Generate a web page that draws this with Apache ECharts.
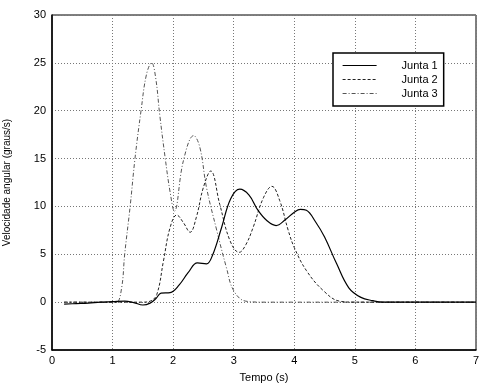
<!DOCTYPE html>
<html><head><meta charset="utf-8">
<script src="https://cdn.jsdelivr.net/npm/echarts@6/dist/echarts.min.js"></script>
<style>html,body{margin:0;padding:0;background:#fff}#c{width:480px;height:385px}</style>
</head><body><div id="c"></div>
<script>
var seriesNames = ["Junta 1", "Junta 2", "Junta 3"];
var xTicks = [0, 1, 2, 3, 4, 5, 6, 7];
var yTicks = [-5, 0, 5, 10, 15, 20, 25, 30];

var t1 = [0.2,0.4,0.6,0.8,1.0,1.2,1.35,1.5,1.62,1.72,1.8,1.95,2.1,2.25,2.4,2.55,2.65,2.8,2.95,3.1,3.25,3.4,3.55,3.7,3.85,4.0,4.1,4.2,4.35,4.5,4.7,4.9,5.1,5.3,5.45,6.0,7.0];
var v1 = [-0.2,-0.15,-0.1,0,0.05,0.1,-0.05,-0.3,-0.1,0.4,0.95,1.0,1.8,3.1,4.1,4.0,4.9,7.8,10.8,11.8,11.2,9.6,8.5,8.0,8.6,9.4,9.7,9.6,8.4,6.8,4.0,1.5,0.5,0.15,0,0,0];

var t2 = [0.2,1.0,1.5,1.62,1.73,1.84,1.95,2.06,2.17,2.28,2.38,2.5,2.62,2.77,2.94,3.09,3.2,3.32,3.49,3.63,3.76,3.9,4.0,4.2,4.48,4.75,5.0,6.0,7.0];
var v2 = [0,0,0,0.1,0.8,4.3,7.8,9.1,8.3,7.3,8.8,12.0,13.7,10.2,6.4,5.2,6.0,7.8,10.9,12.1,10.6,7.5,5.7,3.3,1.2,0.1,0,0,0];

var t3 = [0.2,1.0,1.07,1.15,1.2,1.29,1.37,1.47,1.56,1.645,1.71,1.78,1.87,1.95,2.02,2.17,2.34,2.44,2.55,2.72,2.88,3.0,3.2,3.5,5.0,7.0];
var v3 = [0,0,0,1.5,5,10,15,20,23.8,25,23.5,19.5,15,11.5,9.5,14.8,17.4,16.2,12,7.5,3.6,1.2,0.1,0,0,0];

function pairs(t, v){ return t.map(function(x,i){ return [x, v[i]]; }); }

var styles = [
  { color: '#000', width: 1.2, type: 'solid' },
  { color: '#222', width: 1, type: [3, 2] },
  { color: '#555', width: 1, type: [4, 2, 1, 2] }
];

var chart = echarts.init(document.getElementById('c'));
var font = 'Liberation Sans, Arial, sans-serif';
chart.setOption({
  animation: false,
  backgroundColor: '#fff',
  textStyle: { fontFamily: font },
  grid: { left: 52, right: 4, top: 15, bottom: 35, show: true, borderColor: '#000', borderWidth: 1,
          containLabel: false, outerBoundsMode: 'none' },
  xAxis: {
    type: 'value', min: xTicks[0], max: xTicks[xTicks.length-1], interval: 1,
    name: 'Tempo (s)', nameLocation: 'middle', nameGap: 22,
    nameTextStyle: { color: '#000', fontSize: 11, fontFamily: font },
    axisLine: { onZero: false, lineStyle: { color: '#000', width: 1.5 } },
    axisTick: { show: false },
    axisLabel: { color: '#000', fontSize: 11, margin: 5, fontFamily: font },
    splitLine: { show: true, lineStyle: { color: '#777', type: [1, 2], width: 1 } }
  },
  yAxis: {
    type: 'value', min: yTicks[0], max: yTicks[yTicks.length-1], interval: 5,
    name: 'Velocidade angular (graus/s)', nameLocation: 'middle', nameGap: 40, nameRotate: 90,
    nameTextStyle: { color: '#000', fontSize: 10, fontFamily: font },
    axisLine: { onZero: false, lineStyle: { color: '#000', width: 1.5 } },
    axisTick: { show: false },
    axisLabel: { color: '#000', fontSize: 11, margin: 6, fontFamily: font },
    splitLine: { show: true, lineStyle: { color: '#777', type: [1, 2], width: 1 } }
  },
  legend: {
    orient: 'vertical', left: 333, top: 53,
    backgroundColor: '#fff', borderColor: '#000', borderWidth: 1.5, borderRadius: 0,
    padding: [7, 6, 7, 9], itemGap: 3, itemWidth: 34, itemHeight: 11,
    itemStyle: { opacity: 0 },
    textStyle: { color: '#000', fontSize: 11, fontFamily: font, padding: [0, 0, 0, 20] },
    data: seriesNames.map(function(n, i){ return { name: n, lineStyle: styles[i] }; })
  },
  series: seriesNames.map(function(n, i){
    var d = [pairs(t1, v1), pairs(t2, v2), pairs(t3, v3)][i];
    return { name: n, type: 'line', smooth: 0.4, symbol: 'none', showSymbol: false, data: d, z: 5 - i,
      lineStyle: styles[i], itemStyle: { color: styles[i].color } };
  })
});
</script></body></html>
